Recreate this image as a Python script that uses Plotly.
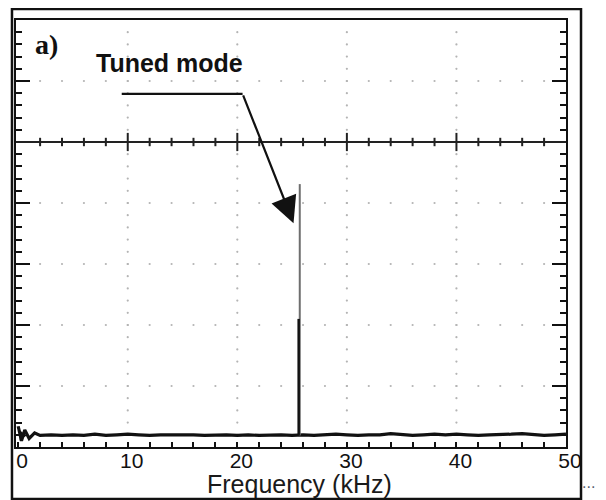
import numpy as np
import plotly.graph_objects as go

# ---- data ----
baseline_freq = [0, 0.3, 0.6, 1.0, 1.5, 2, 3, 4, 5, 6, 7, 8, 9, 10, 11, 12, 13, 14, 15, 16, 17, 18, 19, 20,
                 21, 22, 23, 24, 25, 25.5, 26, 27, 28, 29, 30, 31, 32, 33, 34, 35, 36, 37, 38, 39, 40,
                 41, 42, 43, 44, 45, 46, 47, 48, 49, 50]
baseline_amp = [0.34, 0.10, 0.28, 0.14, 0.23, 0.19, 0.20, 0.19, 0.20, 0.19, 0.21, 0.19, 0.20, 0.21, 0.20, 0.19, 0.20, 0.20, 0.21, 0.20, 0.19, 0.20, 0.20, 0.19,
                0.20, 0.19, 0.20, 0.20, 0.19, 0.20, 0.20, 0.19, 0.20, 0.21, 0.20, 0.19, 0.20, 0.20, 0.22, 0.20, 0.19, 0.20, 0.21, 0.20, 0.21,
                0.20, 0.19, 0.20, 0.20, 0.21, 0.22, 0.20, 0.19, 0.20, 0.21]
spike_freq = [25.7, 25.7]          # tuned mode peak (grey trace)
spike_amp = [0.19, 4.31]
spike2_freq = [25.6, 25.6]         # darker lower trace
spike2_amp = [0.19, 2.10]
x_tickvals = [0, 10, 20, 30, 40, 50]
x_ticktext = ["0", "10", "20", "30", "40", "50"]
annotation_label = "Tuned mode"
panel_label = "a)"
x_title = "Frequency (kHz)"

fig = go.Figure()

# oscilloscope-style dotted grid (decoration)
gx, gy = [], []
for yy in [1, 2, 3, 4, 6]:
    for xx in np.arange(2, 50, 2):
        gx.append(xx); gy.append(yy)
for xx in [10, 20, 30, 40]:
    for yy in np.arange(0.2, 7, 0.2):
        gx.append(xx); gy.append(yy)
fig.add_trace(go.Scatter(x=gx, y=gy, mode="markers",
                         marker=dict(size=2.2, color="#b4b4b4"), hoverinfo="skip", showlegend=False))

# central axis line with ticks
fig.add_shape(type="line", xref="paper", yref="y", x0=0, x1=1, y0=5, y1=5,
              line=dict(color="#222", width=2))
minor_t = [v for v in np.arange(2, 50, 2) if v % 10 != 0]
major_t = [10, 20, 30, 40]
fig.add_trace(go.Scatter(x=minor_t, y=[5] * len(minor_t), mode="markers",
                         marker=dict(symbol="line-ns", size=6, line=dict(width=2, color="#222")),
                         hoverinfo="skip", showlegend=False))
fig.add_trace(go.Scatter(x=major_t, y=[5] * len(major_t), mode="markers",
                         marker=dict(symbol="line-ns", size=13, line=dict(width=2, color="#222")),
                         hoverinfo="skip", showlegend=False))

# spectrum
fig.add_trace(go.Scatter(x=baseline_freq, y=baseline_amp, mode="lines",
                         line=dict(color="#111", width=3.2), showlegend=False))
fig.add_trace(go.Scatter(x=spike_freq, y=spike_amp, mode="lines",
                         line=dict(color="#6e6e6e", width=2), showlegend=False))
fig.add_trace(go.Scatter(x=spike2_freq, y=spike2_amp, mode="lines",
                         line=dict(color="#111", width=2.5), showlegend=False))
# ground marker
fig.add_trace(go.Scatter(x=[0.35], y=[0.19], mode="markers",
                         marker=dict(symbol="triangle-right", size=9, color="#111"),
                         hoverinfo="skip", showlegend=False))

# annotation leader line + arrow
fig.add_shape(type="line", xref="x", yref="y", x0=9.45, x1=20.48, y0=5.79, y1=5.79,
              line=dict(color="#111", width=2.2))
fig.add_annotation(x=25.13, y=3.67, ax=20.48, ay=5.79, xref="x", yref="y", axref="x", ayref="y",
                   text="", showarrow=True, arrowhead=2, arrowsize=2.4, arrowwidth=2.2, arrowcolor="#111")
fig.add_annotation(x=13.8, y=6.3, xref="x", yref="y", text="<b>" + annotation_label + "</b>",
                   showarrow=False, font=dict(family="Liberation Sans, Arial", size=25, color="#111"))
fig.add_annotation(x=2.6, y=6.6, xref="x", yref="y", text="<b>" + panel_label + "</b>",
                   showarrow=False, font=dict(family="Liberation Serif, Times New Roman", size=28, color="#111"))

# axis title
fig.add_annotation(x=0.516, y=-0.086, xref="paper", yref="paper", text=x_title, showarrow=False,
                   xanchor="center", yanchor="middle",
                   font=dict(family="Liberation Sans, Arial", size=25, color="#1a1a1a"))
# trailing dots
fig.add_annotation(x=1.056, y=-0.108, xref="paper", yref="paper", text="...", showarrow=False,
                   font=dict(family="Liberation Sans, Arial", size=16, color="#556070"))

# outer frame
fig.add_shape(type="rect", xref="paper", yref="paper", x0=-0.0073, x1=1.0273, y0=-0.1218, y1=1.0258,
              line=dict(color="#111", width=2.5))

fig.update_xaxes(range=[-0.2, 50], tickvals=x_tickvals, ticktext=x_ticktext, ticks="inside", ticklen=5,
                 tickwidth=1.8, tickcolor="#111",
                 minor=dict(tickvals=list(np.arange(0, 50.01, 2)), ticks="inside", ticklen=5,
                            tickwidth=1.8, tickcolor="#111"),
                 showgrid=False, zeroline=False, showline=True, linecolor="#111", linewidth=2,
                 mirror=True, ticklabelshift=4, ticklabelstandoff=-6,
                 tickfont=dict(family="Liberation Sans, Arial", size=21, color="#111"))
fig.update_yaxes(range=[0, 7], tickvals=list(range(0, 8)), ticks="inside", ticklen=14, tickwidth=2,
                 tickcolor="#111",
                 minor=dict(tickvals=[round(v, 1) for v in np.arange(0, 7.01, 0.2)], ticks="inside",
                            ticklen=6, tickwidth=2, tickcolor="#111"),
                 showticklabels=False, showgrid=False, zeroline=False, showline=True,
                 linecolor="#111", linewidth=2, mirror="ticks")

# page body has an 8px margin, so the figure is sized/offset to fit the 606x500 window
fig.update_layout(width=598, height=492, margin=dict(l=8, r=40, t=12, b=53),
                  plot_bgcolor="white", paper_bgcolor="white", showlegend=False)

fig.write_html("out.html")
